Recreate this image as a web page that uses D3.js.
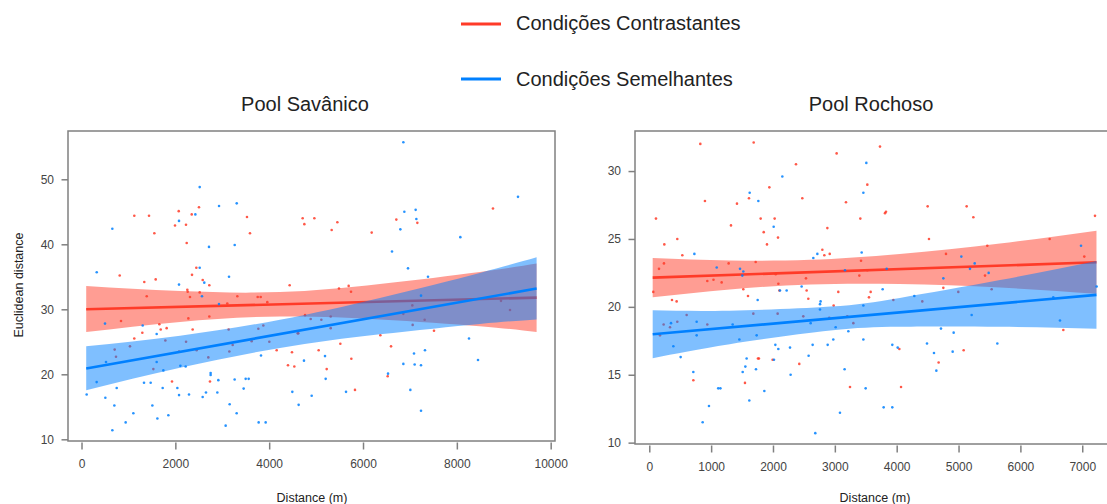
<!DOCTYPE html>
<html>
<head>
<meta charset="utf-8">
<script src="https://cdn.jsdelivr.net/npm/d3@7"></script>
<style>
body { margin:0; background:#fff; }
svg { display:block; font-family:"Liberation Sans", Arial, sans-serif; }
</style>
</head>
<body>
<svg id="chart" width="1107" height="504"></svg>
<script>
// legend + panel labels
var legendLabels = ["Condições Contrastantes", "Condições Semelhantes"];
var panelTitles = ["Pool Savânico", "Pool Rochoso"];
var xTitle = "Distance (m)", yTitle = "Euclidean distance";

// tick values
var savXTicks = [0, 2000, 4000, 6000, 8000, 10000];
var savYTicks = [10, 20, 30, 40, 50];
var rocXTicks = [0, 1000, 2000, 3000, 4000, 5000, 6000, 7000];
var rocYTicks = [10, 15, 20, 25, 30];

// Pool Savânico : points [distance, euclidean]
var savContrastPts = [[814,35.2],[1125,44.4],[1338,34.2],[1390,32.0],[1439,44.4],[1552,41.7],[1581,34.6],[1993,42.9],[2072,45.1],[2227,43.0],[2242,40.2],[2255,33.0],[2263,32.7],[2312,31.9],[2349,44.6],[2355,35.3],[2447,36.4],[2504,45.7],[2519,32.6],[2583,34.5],[2724,33.7],[3107,30.9],[3321,32.0],[3527,44.2],[3591,41.7],[3755,31.9],[3819,31.9],[3960,31.1],[4437,33.7],
  [842,28.2],[707,23.8],[735,22.7],[1033,24.3],[1125,25.5],[1296,26.4],[1531,20.8],[1659,27.7],[1688,26.9],[1787,25.2],[1815,27.1],[1929,18.9],[2079,23.5],[2228,25.0],[2277,28.6],[2369,26.9],[2454,23.7],[2703,22.6],[2738,18.9],[2724,28.9],[3136,26.9],[3151,23.5],[3222,24.5],[3627,25.1],[3769,27.0],[3875,27.5],[4003,25.0],[4160,23.7],[4401,21.4],[4486,23.4],[4536,21.2],[4607,26.3],
  [4714,44.0],[4750,43.1],[4963,44.0],[5332,42.2],[5453,43.4],[6185,41.8],[6710,43.8],[7158,43.3],[8770,45.5],[5488,33.2],[5694,33.6],[5744,32.7],[4764,29.1],
  [4885,28.5],[5112,28.4],[5311,28.9],[5311,27.1],[4622,26.3],[6859,29.3],[7051,30.6],[7058,27.6],[7314,28.4],[8941,31.3],[9133,29.9],[6369,26.0],[5517,24.7],[6597,24.3],[7513,26.7],[5055,23.7],[5226,20.8],[5751,22.4],[5829,17.6],[6526,19.7]];
var savSimilarPts = [[324,35.7],[657,42.4],[2078,43.6],[2078,33.8],[2426,44.6],[2519,48.8],[2519,36.4],[2568,32.0],[2617,34.1],[2717,39.6],[2931,45.9],[3144,35.0],[3265,39.9],[3308,46.3],
  [110,16.9],[323,18.8],[501,27.8],[522,21.9],[508,16.4],[700,15.2],[750,17.9],[657,11.4],[941,12.6],[1105,14.0],[1332,18.7],[1474,18.7],[1304,27.5],[1510,15.2],[1617,13.2],[1602,21.9],[1602,26.2],[1744,20.6],[1730,17.9],[1851,13.7],[2043,17.9],[2079,16.8],[2107,21.3],[2220,21.2],[2291,16.9],[2582,16.5],[2653,17.2],[2752,19.9],[2752,20.2],[2895,17.2],[2916,19.1],[2930,30.8],[3072,12.1],[3158,15.4],[3264,19.2],[3307,14.0],[3456,17.8],[3499,19.3],[3563,19.3],[3776,12.6],[3826,22.9],[3925,12.6],[4493,17.3],[4628,15.3],
  [6860,55.7],[6881,45.0],[7122,45.3],[7137,43.9],[6796,42.3],[6618,38.9],[6959,36.3],[8074,41.1],[9303,47.3],[7385,35.0],[7236,32.1],
  [5190,22.8],[4742,22.1],[4906,16.7],[5204,19.3],[5638,17.3],[6533,20.1],[6860,21.6],[7087,23.2],[7321,23.7],[7101,21.5],[7236,21.4],[7009,17.6],[7236,14.4],[8259,25.5],[8451,22.2]];

// Pool Savânico : fitted line ends and confidence band [distance, lower, upper]
var savContrastFit = [[100,30.0],[9700,31.8]];
var savContrastBand = [[100,26.5,33.6],[2100,28.05,32.8],[4230,28.9,32.65],[6360,28.45,33.9],[8490,27.4,35.75],[9700,26.5,37.05]];
var savSimilarFit = [[100,20.9],[9700,33.2]];
var savSimilarBand = [[100,17.55,24.3],[2100,21.0,25.95],[4230,24.05,28.4],[6360,26.15,31.75],[8490,27.75,35.6],[9700,28.45,38.0]];

// Pool Rochoso : points
var rocContrastPts = [[108,26.5],[243,24.6],[453,25.0],[534,23.8],[157,22.8],[237,23.2],[65,21.1],[367,20.5],[442,20.4],[825,32.0],[900,27.8],[938,21.9],[1038,22.0],[1170,21.8],[1283,23.2],[1321,26.0],[1418,27.6],[1520,21.3],[1596,20.8],[1612,28.0],[1688,32.1],[1720,23.3],[1801,26.5],[1850,25.5],[1903,24.6],[1941,28.8],[2027,26.5],[2044,22.4],[2081,25.1],[2087,21.7],[2103,21.2],[2372,30.5],[2474,28.0],[2544,21.2],[2533,22.1],[2571,20.6],[2798,24.2],[2830,23.8],[2879,25.8],[2917,23.9],[3029,31.3],[3056,21.1],[2981,20.1],[3180,27.7],
  [173,17.9],[232,18.7],[335,18.5],[453,18.9],[604,19.4],[938,18.7],[1682,19.5],[2075,19.5],[2490,19.3],[2910,19.2],[3201,19.3],[712,14.6],[1547,14.4],[1757,16.2],[1773,16.2],[1994,16.1],[2425,15.8],
  [3730,31.8],[3525,29.0],[3811,26.9],[3827,27.0],[3412,26.5],[4501,27.4],[5131,27.4],[5239,26.6],[4522,25.0],[3423,23.4],[3525,22.7],[3396,22.3],[4797,23.9],[5465,24.5],[5428,22.3],[4754,21.4],[3579,21.1],[3552,20.7],[6473,25.0],[7033,23.7],[7206,26.7],[5535,21.3],[4996,21.1],[4414,20.4],[3946,20.5],
  [4043,16.9],[5083,16.8],[4678,15.9],[4070,14.1],[3245,14.1],[6694,18.3],[3299,18.8]];
var rocSimilarPts = [[729,23.9],[1090,22.9],[1467,22.8],[1520,22.6],[1504,22.3],[1623,28.4],[1763,27.8],[1752,20.5],[2011,25.9],[2151,29.6],[2113,21.2],[2221,21.2],[2463,21.5],[2652,23.6],[2717,23.9],[2760,20.2],[2770,20.4],[3164,22.7],
  [351,18.8],[389,17.1],[507,16.3],[712,15.2],[766,18.9],[766,17.9],[1115,14.0],[1150,14.0],[863,11.5],[965,12.7],[1348,18.7],[1456,17.6],[1510,15.2],[1553,15.6],[1574,16.2],[1617,13.1],[1725,15.4],[1736,17.9],[1860,13.8],[2016,16.1],[2038,17.2],[2086,16.9],[2275,17.0],[2285,15.0],[2576,16.4],[2609,18.8],[2641,17.2],[2684,10.7],[2760,19.8],[2884,17.2],[2975,17.6],[3013,18.5],[3083,12.2],[3158,15.4],[3218,18.2],
  [3509,30.6],[3461,28.4],[3434,24.0],[3838,22.8],[3773,21.3],[3461,20.1],[4285,20.8],[4754,22.1],[5045,23.7],[5185,22.8],[5261,23.2],[5487,22.5],[6980,24.5],[7233,21.5],[5212,19.4],[6532,20.7],
  [6640,19.0],[4716,18.4],[4921,18.1],[3461,17.6],[3929,17.2],[4016,17.0],[4490,17.3],[4603,16.6],[4905,16.7],[5627,17.3],[4641,15.3],[3498,14.0],[3789,12.6],[3929,12.6]];

var rocContrastFit = [[55,22.15],[7230,23.28]];
var rocContrastBand = [[55,20.7,23.6],[1300,21.28,23.42],[2600,21.65,23.46],[4050,21.68,23.89],[5670,21.42,24.66],[7230,20.96,25.61]];
var rocSimilarFit = [[55,17.98],[7230,20.88]];
var rocSimilarBand = [[55,16.22,19.75],[1300,17.25,19.72],[2930,18.25,20.02],[4050,18.53,20.66],[5670,18.53,21.97],[7230,18.39,23.37]];

var RED = "#ff3b28", BLUE = "#0080ff";
var BOXCOL = "#808080", TXT = "#222", TICKTXT = "#444";

var svg = d3.select("#chart");

// panel geometry in pixels, domains chosen so ticks land where they do in the picture
var panels = [
  { title: panelTitles[0], l: 68, r: 555, t: 131, b: 441, xDom: [-288, 10092], yDom: [9.74, 57.43],
    xTicks: savXTicks, yTicks: savYTicks, titleX: 305, xTitleX: 312, yTitle: true,
    series: [
      { pts: savContrastPts, fit: savContrastFit, band: savContrastBand, col: RED },
      { pts: savSimilarPts, fit: savSimilarFit, band: savSimilarBand, col: BLUE } ] },
  { title: panelTitles[1], l: 635, r: 1118, t: 131, b: 444, xDom: [-231, 7578], yDom: [9.9, 32.95],
    xTicks: rocXTicks, yTicks: rocYTicks, titleX: 871, xTitleX: 875, yTitle: false,
    series: [
      { pts: rocContrastPts, fit: rocContrastFit, band: rocContrastBand, col: RED },
      { pts: rocSimilarPts, fit: rocSimilarFit, band: rocSimilarBand, col: BLUE } ] }
];

panels.forEach(function(p, pi) {
  var x = d3.scaleLinear().domain(p.xDom).range([p.l, p.r]);
  var y = d3.scaleLinear().domain(p.yDom).range([p.b, p.t]);
  var g = svg.append("g");

  g.append("defs").append("clipPath").attr("id", "clp" + pi)
    .append("rect").attr("x", p.l).attr("y", p.t).attr("width", p.r - p.l).attr("height", p.b - p.t);
  var plot = g.append("g").attr("clip-path", "url(#clp" + pi + ")");

  var area = d3.area()
    .x(function(d) { return x(d[0]); })
    .y0(function(d) { return y(d[1]); })
    .y1(function(d) { return y(d[2]); })
    .curve(d3.curveNatural);
  var line = d3.line()
    .x(function(d) { return x(d[0]); })
    .y(function(d) { return y(d[1]); });

  // red goes first, blue band sits over it
  p.series.forEach(function(s) {
    plot.append("path").attr("d", area(s.band))
      .attr("fill", s.col).attr("fill-opacity", 0.5);
    plot.append("path").attr("d", line(s.fit))
      .attr("fill", "none").attr("stroke", s.col).attr("stroke-width", 2.6);
    plot.selectAll(null).data(s.pts).enter().append("circle")
      .attr("cx", function(d) { return x(d[0]); })
      .attr("cy", function(d) { return y(d[1]); })
      .attr("r", 1.3)
      .attr("fill", s.col).attr("fill-opacity", 0.85);
  });

  // box
  g.append("rect").attr("x", p.l).attr("y", p.t)
    .attr("width", p.r - p.l).attr("height", p.b - p.t)
    .attr("fill", "none").attr("stroke", BOXCOL).attr("stroke-width", 1.5);

  var xa = g.append("g").attr("transform", "translate(0," + (p.b + 1.5) + ")")
    .call(d3.axisBottom(x).tickValues(p.xTicks).tickSize(7).tickPadding(10).tickFormat(d3.format("d")));
  var ya = g.append("g").attr("transform", "translate(" + p.l + ",0)")
    .call(d3.axisLeft(y).tickValues(p.yTicks).tickSize(6.5).tickPadding(7.5).tickFormat(d3.format("d")));
  [xa, ya].forEach(function(a) {
    a.select(".domain").remove();
    a.selectAll("line").attr("stroke", BOXCOL).attr("stroke-width", 1.5);
    a.selectAll("text").attr("fill", TICKTXT).style("font-size", "12px")
      .style("font-family", "'Liberation Sans', Arial, sans-serif");
  });

  g.append("text").attr("x", p.titleX).attr("y", 111)
    .attr("text-anchor", "middle").attr("fill", TXT).style("font-size", "20px").text(p.title);
  g.append("text").attr("x", p.xTitleX).attr("y", 501.5)
    .attr("text-anchor", "middle").attr("fill", TXT).style("font-size", "12.5px").text(xTitle);
  if (p.yTitle) {
    g.append("text").attr("transform", "translate(22.5,285) rotate(-90)")
      .attr("text-anchor", "middle").attr("fill", TXT).style("font-size", "12.5px").text(yTitle);
  }
});

// legend
var legend = svg.append("g");
[[RED, 24, 29.5], [BLUE, 79, 86.3]].forEach(function(e, i) {
  legend.append("line").attr("x1", 461).attr("x2", 501).attr("y1", e[1]).attr("y2", e[1])
    .attr("stroke", e[0]).attr("stroke-width", 3);
  legend.append("text").attr("x", 516).attr("y", e[2])
    .attr("fill", TXT).style("font-size", "20px").text(legendLabels[i]);
});
</script>
</body>
</html>
